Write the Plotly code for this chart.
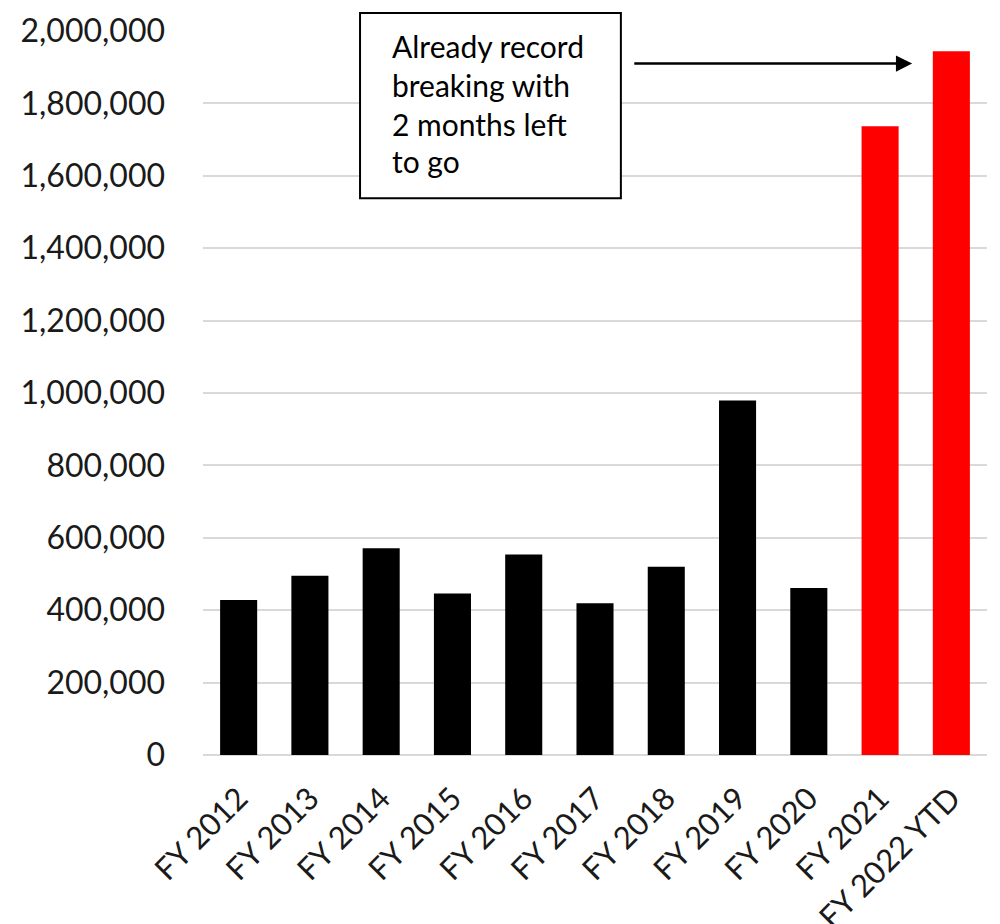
import plotly.graph_objects as go

categories = ["FY 2012", "FY 2013", "FY 2014", "FY 2015", "FY 2016", "FY 2017",
              "FY 2018", "FY 2019", "FY 2020", "FY 2021", "FY 2022 YTD"]
values = [428000, 495000, 571000, 446000, 554000, 419000,
          520000, 979000, 461000, 1737000, 1944000]
bar_colors = ["#000000"] * 9 + ["#FF0000"] * 2
y_ticks = [0, 200000, 400000, 600000, 800000, 1000000, 1200000, 1400000,
           1600000, 1800000, 2000000]
note_lines = ["Already record", "breaking with", "2 months left", "to go"]

FONT = "Lato"

fig = go.Figure()
fig.add_trace(go.Bar(x=categories, y=values, marker=dict(color=bar_colors, line=dict(width=0)),
                     showlegend=False))

fig.update_layout(
    width=992, height=916,
    margin=dict(l=195, r=13, t=23, b=169),
    paper_bgcolor="white", plot_bgcolor="white",
    bargap=0.48,
    font=dict(family=FONT, color="#262626"),
)
fig.update_yaxes(
    range=[0, 2000000], tickvals=y_ticks, tickformat=",d",
    showgrid=True, gridcolor="#d9d9d9", gridwidth=2,
    zeroline=True, zerolinecolor="#d9d9d9", zerolinewidth=2,
    tickfont=dict(size=32, family=FONT, color="#1a1a1a"),
    ticklabelstandoff=37, showline=False, ticks="", automargin=False,
)
fig.update_xaxes(
    tickangle=-45, showgrid=False, showline=False, ticks="",
    tickfont=dict(size=31, family=FONT, color="#1a1a1a"),
    ticklabelstandoff=18, automargin=False,
)

# text box
fig.add_shape(type="rect", xref="paper", yref="paper",
              x0=0.2003, x1=0.533, y0=0.769, y1=1.025,
              line=dict(color="#000000", width=2), fillcolor="white", layer="above")
line_px = [46, 85, 124, 161]
for txt, py in zip(note_lines, line_px):
    fig.add_annotation(xref="paper", yref="paper", x=0.2385, y=(755 - py) / 724,
                       xanchor="left", yanchor="middle", showarrow=False,
                       text=txt, font=dict(size=30, family=FONT, color="#000000"))

# arrow
fig.add_annotation(x=9.45, y=1910000, ax=5.53, ay=1910000, xref="x", yref="y",
                   axref="x", ayref="y", text="", showarrow=True,
                   arrowhead=2, arrowsize=1.3, arrowwidth=2.5, arrowcolor="#000000")

fig.write_html("out.html")
